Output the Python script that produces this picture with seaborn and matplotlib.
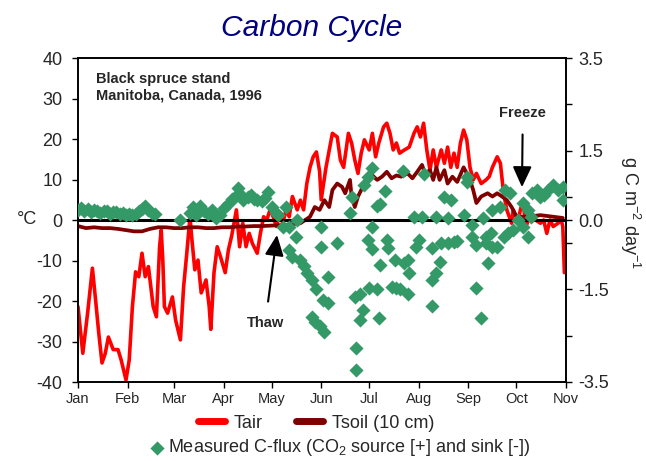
import numpy as np
import pandas as pd
import matplotlib
matplotlib.use("Agg")
import matplotlib.pyplot as plt
import seaborn as sns

# ---------------- data (day of year 1996, 0 = Jan 1) ----------------
month_labels = ["Jan", "Feb", "Mar", "Apr", "May", "Jun", "Jul", "Aug", "Sep", "Oct", "Nov"]
month_starts = [0, 31, 60, 91, 121, 152, 182, 213, 244, 274, 305]

tair_day = [0, 2, 3, 6, 9, 11, 13, 15, 17, 19, 22, 25, 27, 30, 32, 34, 36, 38, 40, 42, 44, 47, 49,
            51, 52, 53, 54, 56, 59, 61, 64, 66, 68, 70, 71, 73, 75, 77, 80, 82, 83, 85, 87, 89, 92,
            94, 96, 99, 101, 103, 105, 107, 109, 112, 114, 116, 118, 120, 122, 124, 126, 128, 130,
            132, 134, 137, 139, 141, 143, 145, 147, 149, 151, 152, 155, 159, 162, 164, 166, 169,
            171, 173, 175, 177, 179, 182, 184, 186, 188, 191, 193, 195, 197, 199, 201, 204, 207,
            210, 212, 214, 216, 218, 220, 222, 224, 227, 229, 231, 233, 235, 237, 239, 241, 243,
            245, 247, 249, 252, 255, 257, 259, 262, 264, 266, 268, 271, 272, 275, 278, 280, 283,
            286, 289, 291, 293, 295, 297, 300, 302, 303, 304]
tair_val = [-21.4, -28.9, -32.9, -23, -11.9, -19.8, -28, -35.3, -33, -28.9, -32, -32, -34.6, -39.5,
            -34.6, -21.4, -12.8, -14, -8.2, -14, -11.5, -21.4, -23.9, -6.6, -2.5, -9.9, -21.4, -23,
            -19, -24.7, -29.6, -16.5, -8.2, 0.8, -4, -12.3, -9.9, -18, -14.8, -21.4, -27, -13, -6.6,
            -9, -13, -7.4, -4, 2.5, -6.6, -0.8, -6.6, -3.3, -5.8, -8.2, -3.3, 0.8, 0, 2.5, 0.8, -1.6,
            1.6, -0.8, 2.5, 0.8, 5.8, 2.5, 4.9, 2.5, 9, 13, 15.6, 16.8, 12, 5, 13, 21.4, 20.5, 14.8,
            13, 21.4, 19, 14.8, 11.5, 16.5, 19.8, 17.3, 21.4, 15.6, 19, 23, 23.9, 21.4, 17.3, 19,
            16.5, 17.3, 18, 21.4, 23, 20.5, 23.9, 17.3, 12.3, 17.3, 13, 17.3, 14, 18, 13, 16.5, 13,
            19, 22.2, 19.8, 13, 9.9, 11.5, 9, 9.9, 10.7, 13, 15.6, 14, 6.6, 2.5, -0.8, 2.5, 0, 4.9,
            -1.6, 1.6, 0, -0.8, 0, -3.3, 0, -1.6, -0.8, 0, -1.6, -13]

tsoil_day = [0, 5, 10, 15, 20, 25, 30, 35, 40, 45, 50, 55, 60, 65, 70, 75, 80, 85, 90, 95, 100, 105,
             110, 115, 120, 125, 130, 135, 139, 145, 148, 151, 154, 157, 159, 162, 165, 167, 170,
             171, 173, 175, 178, 181, 184, 187, 190, 193, 196, 199, 202, 206, 209, 212, 215, 217,
             220, 222, 224, 226, 229, 231, 234, 237, 241, 243, 245, 247, 249, 252, 256, 259, 262,
             265, 268, 271, 274, 281, 289, 297, 303]
tsoil_val = [-1.5, -2, -1.8, -2, -2, -2.2, -2.5, -2.8, -2.8, -2.2, -1.8, -1.8, -2, -2, -1.8, -1.8,
             -2, -2, -1.8, -1.8, -1.6, -1.6, -1.5, -1.5, -1.4, -1.3, -1.2, -1.0, -0.8, 0.8, 3.2,
             2.5, 4.9, 3.2, 7.4, 9, 8.2, 6.6, 9.9, 5.8, 3.2, 5.8, 8.2, 10.7, 11, 9.9, 10.7, 11.9,
             10.3, 11, 10.7, 11.5, 10.3, 11.9, 13.6, 11.5, 12.3, 9.9, 13, 9.9, 12.3, 9, 10.7, 9.4,
             13, 11.5, 9.9, 7.4, 4.2, 5.8, 6.6, 5.8, 6.6, 5.8, 4.9, 3.2, 0.8, 0.8, 1.2, 0.8, 0.5]

flux_day = [0, 2, 4, 6, 8, 10, 12, 14, 16, 18, 20, 22, 24, 26, 28, 30, 32, 34, 36, 38, 40, 42, 44,
            46, 48,
            64, 70, 72, 74, 76, 79, 81, 84, 86, 89, 91, 94, 96, 98, 100, 102, 103, 106, 108, 110,
            112, 115, 117, 119, 121, 124, 125, 128, 130, 132, 132, 134, 136, 137, 139, 141, 143,
            146, 146, 148, 149, 151, 152, 152, 153, 154, 156, 156, 162, 170, 171, 173, 174, 174,
            176, 176, 178, 179, 181, 181, 182, 184, 184, 184, 187, 187, 188, 189, 189, 192, 193,
            194, 196, 198, 199, 201, 203, 204, 206, 206, 207, 210, 211, 213, 215, 216, 221, 221,
            221, 224, 224, 226, 227, 229, 231, 231, 233, 235, 237, 241, 243, 243, 246, 246, 249,
            249, 252, 253, 255, 255, 256, 258, 259, 259, 262, 264, 266, 267, 269, 270, 272, 275,
            278, 278, 281, 281, 283, 284, 287, 289, 291, 294, 297, 300, 303, 303]
flux_val = [0.22, 0.25, 0.2, 0.24, 0.18, 0.22, 0.2, 0.15, 0.19, 0.2, 0.14, 0.17, 0.18, 0.12, 0.16,
            0.1, 0.13, 0.11, 0.14, 0.2, 0.24, 0.3, 0.22, 0.15, 0.12,
            0.0, 0.15, 0.28, 0.1, 0.3, 0.2, 0.12, 0.22, 0.05, 0.1, 0.25, 0.35, 0.45, 0.5, 0.69,
            0.55, 0.43, 0.5, 0.54, 0.45, 0.43, 0.4, 0.48, 0.6, 0.28, 0.15, 0.1, -0.15, 0.28, -0.15,
            -0.65, -0.8, -0.37, 0.0, -0.86, -1.0, -1.15, -1.3, -2.1, -2.2, -1.5, -2.3, -0.15, -0.58,
            -1.73, -2.42, -1.23, -1.8, -0.5, 0.15, 0.5, -1.66, -2.76, -3.24, -1.6, -2.16, -1.94,
            0.76, 0.93, -0.43, -1.47, 1.12, -0.15, -0.62, 0.3, -1.5, -2.12, 0.35, -0.97, 0.62,
            -0.43, -0.6, -1.45, -0.86, -1.47, -1.5, 1.06, -0.93, -0.86, -1.6, -1.15, 0.06, -0.58,
            -0.43, 0.06, 1.0, -1.85, -1.3, -0.6, 0.06, -1.15, -0.9, -0.5, 0.5, 0.04, -0.5, 0.43,
            -0.47, -0.45, 0.1, 0.93, 0.82, -0.1, -0.37, -1.47, -0.54, -2.12, 0.04, -0.37, -0.5,
            -0.93, -0.28, -0.58, 0.22, -0.58, 0.28, -0.37, 0.65, -0.28, 0.58, -0.22, 0.0, -0.15,
            0.37, 0.22, -0.37, 0.06, 0.58, 0.65, 0.5, 0.55, 0.65, 0.76, 0.65, 0.71, 0.43]

temp_ticks = [-40, -30, -20, -10, 0, 10, 20, 30, 40]
flux_ticks = [-3.5, -2.5, -1.5, -0.5, 0, 0.5, 1.5, 2.5, 3.5]
flux_ticklabels = ["-3.5", "", "-1.5", "", "0.0", "", "1.5", "", "3.5"]

# ---------------- style ----------------
sns.set_theme(style="white")
plt.rcParams["font.family"] = ["Liberation Sans", "DejaVu Sans"]
plt.rcParams["mathtext.fontset"] = "custom"
plt.rcParams["mathtext.rm"] = "Liberation Sans"
plt.rcParams["mathtext.it"] = "Liberation Sans:italic"

RED = "#ff0000"
DARKRED = "#800000"
GREEN = "#339966"

fig = plt.figure(figsize=(6.46, 4.61), dpi=100)
ax = fig.add_axes([78 / 646, 1 - 382 / 461, (566 - 78) / 646, (382 - 58) / 461])

df_air = pd.DataFrame({"day": tair_day, "T": tair_val})
df_soil = pd.DataFrame({"day": tsoil_day, "T": tsoil_val})
df_flux = pd.DataFrame({"day": flux_day, "F": flux_val})

sns.lineplot(data=df_air, x="day", y="T", color=RED, lw=2.6, ax=ax, label="Tair", zorder=2)
sns.lineplot(data=df_soil, x="day", y="T", color=DARKRED, lw=2.7, ax=ax,
             label="Tsoil (10 cm)", zorder=3)
ax.axhline(0, color="black", lw=2.2, zorder=4)
if ax.get_legend():
    ax.get_legend().remove()

ax.set_xlim(0, 305)
ax.set_ylim(-40, 40)
ax.set_xticks(month_starts)
ax.set_xticklabels(month_labels, fontsize=10.5)
ax.set_yticks(temp_ticks)
ax.set_yticklabels([str(t) for t in temp_ticks], fontsize=13)
ax.set_xlabel("")
ax.set_ylabel("")
ax.tick_params(axis="y", direction="out", length=4, width=1, pad=7, left=True, color="black")
ax.tick_params(axis="x", direction="out", length=4, width=1, pad=3, bottom=True, color="black")
for s in ax.spines.values():
    s.set_color("black")
    s.set_linewidth(1.2)

ax2 = ax.twinx()
sns.scatterplot(data=df_flux, x="day", y="F", marker="D", s=52, color=GREEN,
                edgecolor=GREEN, linewidth=0, ax=ax2, zorder=5,
                label="Measured C-flux (CO$_2$ source [+] and sink [-])")
if ax2.get_legend():
    ax2.get_legend().remove()
ax2.set_ylim(-3.5, 3.5)
ax2.set_yticks(flux_ticks)
ax2.set_yticklabels(flux_ticklabels, fontsize=13)
ax2.set_ylabel("")
ax2.tick_params(axis="y", direction="out", length=4, width=1, pad=5, right=True, color="black")
for s in ax2.spines.values():
    s.set_color("black")
    s.set_linewidth(1.2)

# annotations
ax.text(11, 36.5, "Black spruce stand\nManitoba, Canada, 1996", fontsize=10.5,
        fontweight="bold", va="top", ha="left", linespacing=1.25)
arrow = dict(arrowstyle="-|>,head_length=1.2,head_width=0.55", color="black",
             lw=1.5, shrinkA=8, shrinkB=0)
ax.annotate("Thaw", xy=(124.4, -3.7), xytext=(117, -25.4), fontsize=10.5, fontweight="bold",
            ha="center", va="center", arrowprops=arrow)
ax.annotate("Freeze", xy=(277.5, 8.1), xytext=(278, 26.4), fontsize=10.5, fontweight="bold",
            ha="center", va="center", arrowprops=arrow)

# titles / axis labels
fig.text(312 / 646, 1 - 28 / 461, "Carbon Cycle", fontsize=21.5, style="italic",
         color="#000080", ha="center", va="center")
fig.text(27 / 646, 1 - 220 / 461, "°C", fontsize=13, ha="center", va="center")
fig.text(630 / 646, 1 - 213 / 461, "g C m$^{-2}$ day$^{-1}$", fontsize=13, rotation=270,
         ha="center", va="center")

# legends
h1, l1 = ax.get_legend_handles_labels()
leg1 = fig.legend(h1, l1, loc="center", bbox_to_anchor=(316 / 646, 1 - 423 / 461), ncol=2,
                  frameon=False, fontsize=13, handlelength=1.5, handletextpad=0.5,
                  columnspacing=1.8, borderpad=0)
for ln in leg1.get_lines():
    ln.set_linewidth(5)
h2, l2 = ax2.get_legend_handles_labels()
leg2 = fig.legend(h2, l2, loc="center", bbox_to_anchor=(341 / 646, 1 - 448 / 461),
                  frameon=False, fontsize=13, handlelength=0.6, handletextpad=0.3, borderpad=0)

fig.savefig("out.png", dpi=100)
